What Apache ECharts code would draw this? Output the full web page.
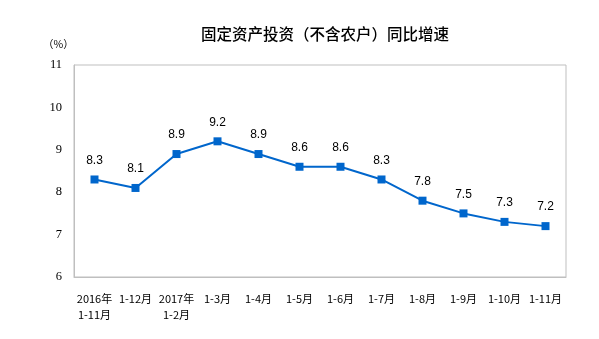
<!DOCTYPE html>
<html>
<head>
<meta charset="utf-8">
<script src="https://cdn.jsdelivr.net/npm/echarts@6/dist/echarts.min.js"></script>
<style>
html,body{margin:0;padding:0;background:#fff;}
#chart{width:599px;height:339px;}
</style>
</head>
<body>
<div id="chart"></div>
<script>
// Fixed-asset investment (excl. rural households), cumulative YoY growth, %
const categories = ['2016年\n1-11月', '1-12月', '2017年\n1-2月', '1-3月', '1-4月', '1-5月', '1-6月', '1-7月', '1-8月', '1-9月', '1-10月', '1-11月'];
const growth = [8.3, 8.1, 8.9, 9.2, 8.9, 8.6, 8.6, 8.3, 7.8, 7.5, 7.3, 7.2];
const yTicks = [6, 7, 8, 9, 10, 11];

const chart = echarts.init(document.getElementById('chart'));
chart.setOption({
  animation: false,
  backgroundColor: '#fff',
  title: {
    text: '固定资产投资（不含农户）同比增速',
    left: 320,
    top: 21,
    textAlign: 'center',
    textStyle: { fontSize: 15.5, fontWeight: 500, color: '#000', fontFamily: 'Noto Sans CJK SC' }
  },
  graphic: [{
    type: 'text',
    left: 43,
    top: 39,
    style: { text: '（%）', fontSize: 10.5, fill: '#000', fontFamily: 'Noto Sans CJK SC' }
  }],
  grid: {
    left: 74, right: 33, top: 65, bottom: 62,
    show: true, borderColor: '#bfbfbf', borderWidth: 1
  },
  xAxis: {
    type: 'category',
    data: categories,
    boundaryGap: true,
    axisLine: { lineStyle: { color: '#bfbfbf' } },
    axisTick: { inside: true, length: 4, lineStyle: { color: '#bfbfbf' } },
    axisLabel: {
      interval: 0, margin: 14, color: '#000', fontSize: 11, lineHeight: 16,
      fontFamily: 'Noto Sans CJK SC'
    }
  },
  yAxis: {
    type: 'value',
    min: yTicks[0], max: yTicks[yTicks.length - 1], interval: 1,
    axisLine: { show: true, lineStyle: { color: '#bfbfbf' } },
    axisTick: { show: false },
    splitLine: { show: false },
    axisLabel: { margin: 12, color: '#000', fontSize: 12.5, fontFamily: 'Liberation Serif' }
  },
  series: [{
    type: 'line',
    data: growth,
    symbol: 'rect',
    symbolSize: 8,
    lineStyle: { color: '#0066cc', width: 2 },
    itemStyle: { color: '#0066cc' },
    label: {
      show: true, position: 'top', distance: 9,
      color: '#000', fontSize: 12, fontFamily: 'Liberation Sans',
      formatter: p => p.value.toFixed(1)
    }
  }]
});
</script>
</body>
</html>
